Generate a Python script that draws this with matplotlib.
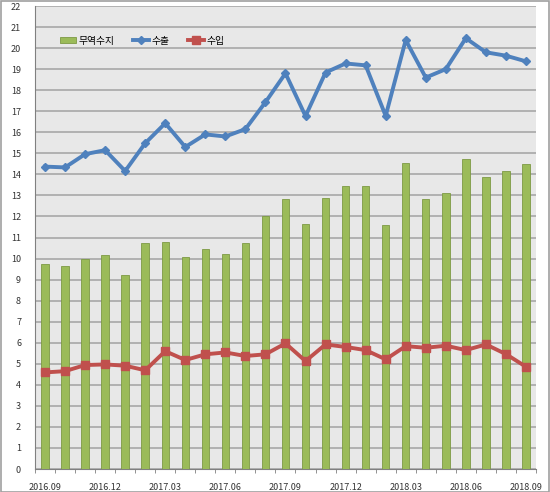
import matplotlib
matplotlib.use("Agg")
import matplotlib.pyplot as plt
import numpy as np
from matplotlib.patches import Rectangle

plt.rcParams['font.family'] = ['Noto Sans CJK KR', 'DejaVu Sans']

months = ["2016.09", "2016.10", "2016.11", "2016.12", "2017.01", "2017.02", "2017.03",
          "2017.04", "2017.05", "2017.06", "2017.07", "2017.08", "2017.09", "2017.10",
          "2017.11", "2017.12", "2018.01", "2018.02", "2018.03", "2018.04", "2018.05",
          "2018.06", "2018.07", "2018.08", "2018.09"]
balance = [9.76, 9.65, 10.0, 10.17, 9.24, 10.74, 10.77, 10.08, 10.46, 10.24, 10.75, 12.0,
           12.81, 11.62, 12.9, 13.44, 13.44, 11.59, 14.52, 12.83, 13.1, 14.74, 13.89, 14.17, 14.49]
exports = [14.37, 14.33, 14.96, 15.15, 14.16, 15.48, 16.43, 15.3, 15.9, 15.8, 16.15, 17.43,
           18.8, 16.77, 18.84, 19.27, 19.18, 16.78, 20.38, 18.6, 19.0, 20.47, 19.8, 19.64, 19.37]
imports = [4.59, 4.65, 4.94, 4.97, 4.91, 4.69, 5.6, 5.18, 5.45, 5.54, 5.37, 5.45,
           5.97, 5.13, 5.92, 5.8, 5.65, 5.21, 5.84, 5.76, 5.86, 5.65, 5.92, 5.46, 4.86]
series_names = ["무역수지", "수출", "수입"]
yticks = list(range(0, 23))

fig = plt.figure(figsize=(5.5, 4.92), dpi=100)
fig.patch.set_facecolor('white')
fig.add_artist(Rectangle((0.001, 0.001), 0.997, 0.997, transform=fig.transFigure,
                         fill=False, edgecolor='#a0a0a0', linewidth=1.2))
ax = fig.add_axes([0.0636, 0.0467, 0.9109, 0.9411])
ax.set_facecolor('#e8e8e8')

x = np.arange(len(months))
b = ax.bar(x, balance, width=0.37, color='#9bbb59', edgecolor='#7d9a44', linewidth=0.6,
           label=series_names[0], zorder=3)
l1, = ax.plot(x, exports, color='#4f81bd', linewidth=2.8, marker='D', markersize=4.5,
              label=series_names[1], zorder=4)
l2, = ax.plot(x, imports, color='#c0504d', linewidth=2.8, marker='s', markersize=5.5,
              label=series_names[2], zorder=4)

ax.set_xlim(-0.5, len(months) - 0.5)
ax.set_ylim(0, 22)
ax.set_yticks(yticks)
ax.set_yticklabels([str(v) for v in yticks], fontsize=6.5, color='#333333')
ax.yaxis.grid(True, color='#a8a8a8', linewidth=1.2, zorder=1)
ax.set_axisbelow(True)

ax.set_xticks(x[::3])
ax.set_xticklabels(months[::3], fontsize=6.5, color='#333333')
ax.set_xticks(np.arange(-0.5, len(months), 1), minor=True)
ax.tick_params(axis='x', which='major', length=0, pad=10)
ax.tick_params(axis='x', which='minor', length=3, color='#808080', direction='out')
ax.tick_params(axis='y', which='major', length=0, pad=10)

for s in ['top', 'right']:
    ax.spines[s].set_visible(False)
ax.spines['left'].set_color('#808080')
ax.spines['bottom'].set_color('#808080')

leg = ax.legend([b, l1, l2], series_names, loc='upper left', bbox_to_anchor=(0.032, 0.955),
                ncol=3, frameon=False, fontsize=7, handlelength=1.7, handleheight=0.5,
                columnspacing=1.9, handletextpad=0.2)

fig.savefig('out.png', dpi=100)
